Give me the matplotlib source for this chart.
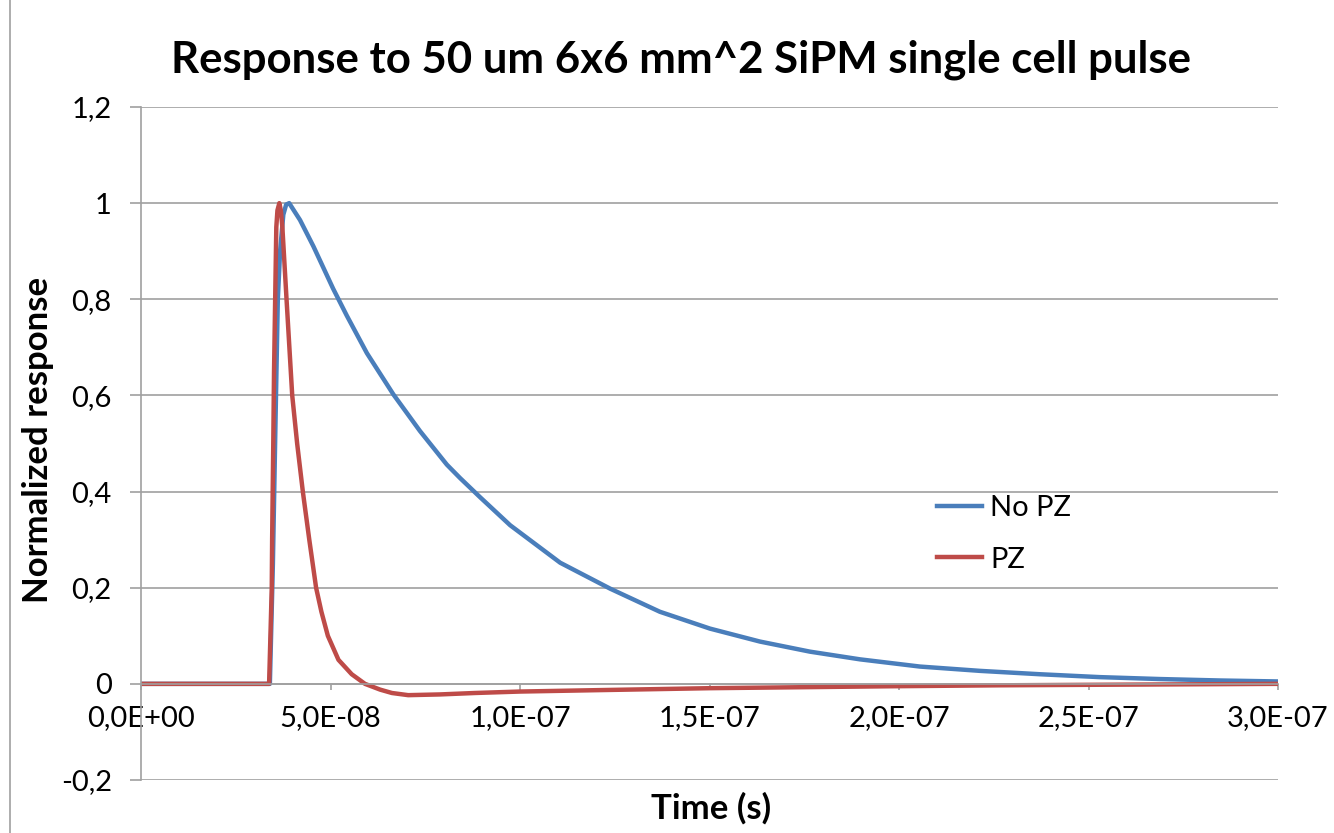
import matplotlib
matplotlib.use('Agg')
import matplotlib.pyplot as plt
from matplotlib.lines import Line2D
from matplotlib.ticker import FuncFormatter

plt.rcParams['font.family'] = ['Lato', 'DejaVu Sans']

# values (time in ns)
t_nopz = [0, 34.0, 34.8, 35.5, 36.1, 36.7, 37.55, 38.3, 39.1, 41.95, 45.5, 50.7,
          54.3, 59.6, 66.6, 73.6, 80.7, 84.2, 89.5, 97.4, 110.6, 123.8, 136.9,
          150.1, 163.3, 176.5, 189.7, 205.5, 221.4, 237.2, 253.0, 268.9, 284.7, 300]
y_nopz = [0, 0, 0.25, 0.55, 0.80, 0.90, 0.976, 0.997, 1.0, 0.965, 0.910, 0.822,
          0.766, 0.688, 0.602, 0.526, 0.456, 0.428, 0.388, 0.330, 0.252, 0.198, 0.150,
          0.115, 0.088, 0.067, 0.051, 0.036, 0.027, 0.020, 0.014, 0.010, 0.007, 0.005]

t_pz = [0, 33.8, 34.5, 34.6, 34.9, 35.1, 35.4, 35.7, 36.0, 36.5, 36.9, 37.3, 38.4,
        39.9, 41.2, 42.7, 44.4, 46.2, 47.6, 49.3, 52.1, 55.6, 59.1, 63.1, 66.2, 70.5,
        78.9, 88.1, 100.0, 121.1, 150.1, 173.9, 197.6, 226.6, 249.9, 300]
y_pz = [0, 0, 0.2, 0.3, 0.5, 0.65, 0.8, 0.95, 0.985, 1.0, 0.985, 0.95, 0.8,
        0.6, 0.5, 0.4, 0.3, 0.2, 0.15, 0.1, 0.05, 0.02, 0.0, -0.012, -0.019, -0.0235,
        -0.022, -0.019, -0.016, -0.013, -0.009, -0.007, -0.005, -0.003, -0.002, 0.0]

x_ticks = [0, 5e-8, 1e-7, 1.5e-7, 2e-7, 2.5e-7, 3e-7]
y_ticks = [-0.2, 0, 0.2, 0.4, 0.6, 0.8, 1.0, 1.2]

title = 'Response to 50 um 6x6 mm^2 SiPM single cell pulse'
grey = '#a0a0a0'

W, H = 1334, 833
fig = plt.figure(figsize=(W / 100, H / 100), dpi=100)
ax = fig.add_axes([141 / W, 1 - 780 / H, 1137 / W, 673 / H])

ax.plot([t * 1e-9 for t in t_nopz], y_nopz, color='#4a7ebb', lw=3.2,
        solid_joinstyle='round', label='No PZ')
ax.plot([t * 1e-9 for t in t_pz], y_pz, color='#be4b48', lw=3.2,
        solid_joinstyle='round', label='PZ')

ax.set_xlim(0, 3e-7)
ax.set_ylim(-0.2, 1.2)
ax.set_xticks(x_ticks)
ax.set_yticks(y_ticks)
ax.xaxis.set_major_formatter(FuncFormatter(lambda v, p: f'{v:.1E}'.replace('.', ',')))
ax.yaxis.set_major_formatter(FuncFormatter(lambda v, p: f'{round(v, 2):g}'.replace('.', ',')))

for s in ['top', 'right']:
    ax.spines[s].set_visible(False)
ax.spines['bottom'].set_position(('data', 0))
ax.spines['bottom'].set_color(grey)
ax.spines['left'].set_color(grey)
ax.spines['bottom'].set_linewidth(1.2)
ax.spines['left'].set_linewidth(1.2)
ax.yaxis.grid(True, color=grey, lw=1.2)
ax.set_axisbelow(True)
ax.tick_params(axis='x', direction='out', length=4.5, width=1.2, color=grey,
               labelsize=21, pad=11)
ax.tick_params(axis='y', direction='out', length=8, width=1.2, color=grey,
               labelsize=21, pad=13)

fig.text(681 / W, 1 - 73 / H, title, ha='center', va='baseline',
         fontsize=31.5, fontweight='bold')
fig.text(38 / W, 1 - 440 / H, 'Normalized response', rotation=90, ha='center',
         va='center', fontsize=25, fontweight='bold')
fig.text(711 / W, 1 - 808 / H, 'Time (s)', ha='center', va='center',
         fontsize=25, fontweight='bold')

ax.legend(loc='upper left', bbox_to_anchor=(937 / W, 1 - 495 / H),
          bbox_transform=fig.transFigure, frameon=False, fontsize=21,
          handlelength=1.55, handletextpad=0.28, labelspacing=0.88,
          borderpad=0, borderaxespad=0)

fig.add_artist(Line2D([10 / W, 10 / W], [0, 1], transform=fig.transFigure,
                      color=grey, lw=1.2))

fig.savefig('out.png', dpi=100)
